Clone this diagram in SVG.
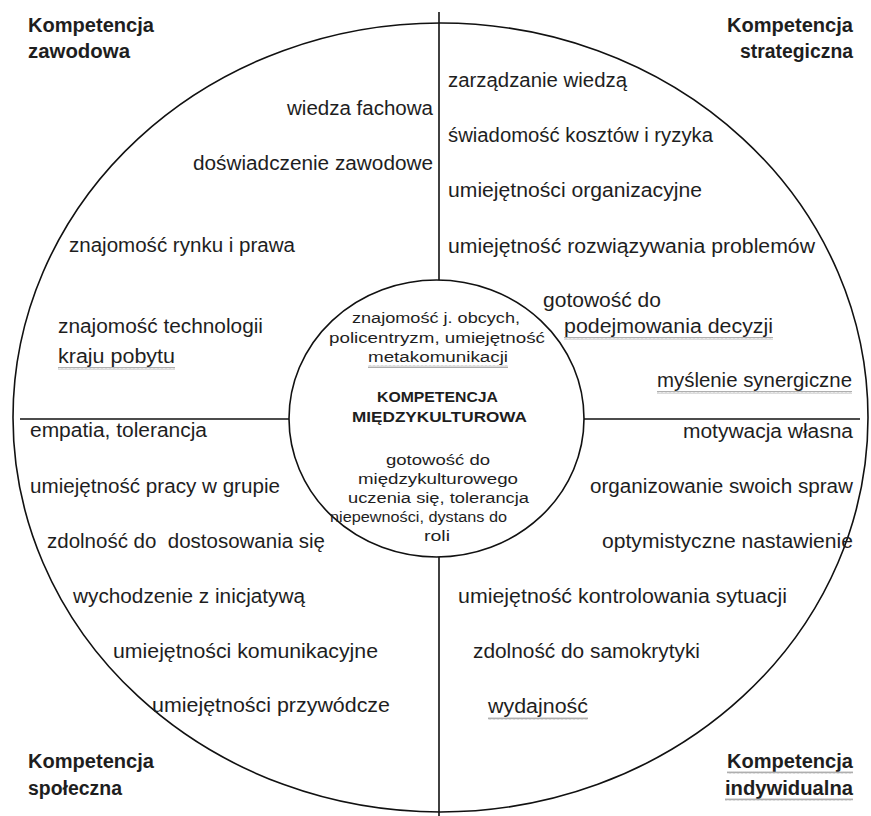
<svg xmlns="http://www.w3.org/2000/svg" width="871" height="816" viewBox="0 0 871 816">
<style>
text{font-family:"Liberation Sans",Arial,sans-serif;fill:#1e1e1e;}
.t{font-size:20px;}
.h{font-size:20px;font-weight:bold;}
.c{font-size:15.5px;}
.cb{font-size:15.5px;font-weight:bold;}
.ln{stroke:#111;stroke-width:1.6;fill:none;}
.sq{fill:url(#wave);}
</style>
<defs>
<pattern id="wave" x="0" y="0" width="4" height="3" patternUnits="userSpaceOnUse">
<path d="M0,2.5 L1,0.5 L2,2.5 L3,0.5 L4,2.5" stroke="#9a9a9a" stroke-width="0.8" fill="none"/>
</pattern>
</defs>
<rect width="871" height="816" fill="#fff"/>
<g id="connectors">
<line class="ln" x1="439" y1="12" x2="439" y2="816"/>
<line class="ln" x1="20" y1="419" x2="860" y2="419"/>
</g>
<g id="outer-circle">
<ellipse class="ln" cx="440.5" cy="417.5" rx="427.5" ry="394.5"/>
</g>
<g id="inner-circle">
<ellipse cx="436.5" cy="418.5" rx="147.5" ry="138.5" fill="#fff" stroke="#111" stroke-width="1.6"/>
</g>

<g id="kompetencja-zawodowa">
<text class="h" x="28" y="32" textLength="126" lengthAdjust="spacingAndGlyphs">Kompetencja</text>
<text class="h" x="28" y="58" textLength="102" lengthAdjust="spacingAndGlyphs">zawodowa</text>
<text class="t" x="287" y="115" textLength="146" lengthAdjust="spacingAndGlyphs">wiedza fachowa</text>
<text class="t" x="193" y="170" textLength="240" lengthAdjust="spacingAndGlyphs">doświadczenie zawodowe</text>
<text class="t" x="69" y="252" textLength="226" lengthAdjust="spacingAndGlyphs">znajomość rynku i prawa</text>
<text class="t" x="58" y="333" textLength="205" lengthAdjust="spacingAndGlyphs">znajomość technologii</text>
<text class="t" x="58" y="363" textLength="117" lengthAdjust="spacingAndGlyphs">kraju pobytu</text>
<rect class="sq" x="58" y="367" width="117" height="3"/>
</g>

<g id="kompetencja-strategiczna">
<text class="h" x="727" y="32" textLength="126" lengthAdjust="spacingAndGlyphs">Kompetencja</text>
<text class="h" x="740" y="58" textLength="113" lengthAdjust="spacingAndGlyphs">strategiczna</text>
<text class="t" x="448" y="87" textLength="179" lengthAdjust="spacingAndGlyphs">zarządzanie wiedzą</text>
<text class="t" x="448" y="142" textLength="265" lengthAdjust="spacingAndGlyphs">świadomość kosztów i ryzyka</text>
<text class="t" x="448" y="197" textLength="254" lengthAdjust="spacingAndGlyphs">umiejętności organizacyjne</text>
<text class="t" x="448" y="253" textLength="367" lengthAdjust="spacingAndGlyphs">umiejętność rozwiązywania problemów</text>
<text class="t" x="543" y="307" textLength="118" lengthAdjust="spacingAndGlyphs">gotowość do</text>
<text class="t" x="564" y="333" textLength="209" lengthAdjust="spacingAndGlyphs">podejmowania decyzji</text>
<rect class="sq" x="564" y="337" width="209" height="3"/>
<text class="t" x="657" y="387" textLength="195" lengthAdjust="spacingAndGlyphs">myślenie synergiczne</text>
<rect class="sq" x="657" y="391" width="195" height="3"/>
</g>

<g id="kompetencja-spoleczna">
<text class="t" x="30" y="437" textLength="177" lengthAdjust="spacingAndGlyphs">empatia, tolerancja</text>
<text class="t" x="30" y="493" textLength="250" lengthAdjust="spacingAndGlyphs">umiejętność pracy w grupie</text>
<text class="t" x="47" y="548" textLength="278" lengthAdjust="spacingAndGlyphs">zdolność do &#160;dostosowania się</text>
<text class="t" x="73" y="603" textLength="232" lengthAdjust="spacingAndGlyphs">wychodzenie z inicjatywą</text>
<text class="t" x="113" y="658" textLength="265" lengthAdjust="spacingAndGlyphs">umiejętności komunikacyjne</text>
<text class="t" x="152" y="712" textLength="238" lengthAdjust="spacingAndGlyphs">umiejętności przywódcze</text>
<text class="h" x="28" y="768" textLength="126" lengthAdjust="spacingAndGlyphs">Kompetencja</text>
<text class="h" x="28" y="795" textLength="94" lengthAdjust="spacingAndGlyphs">społeczna</text>
</g>

<g id="kompetencja-indywidualna">
<text class="t" x="683" y="438" textLength="170" lengthAdjust="spacingAndGlyphs">motywacja własna</text>
<text class="t" x="590" y="493" textLength="263" lengthAdjust="spacingAndGlyphs">organizowanie swoich spraw</text>
<text class="t" x="602" y="548" textLength="251" lengthAdjust="spacingAndGlyphs">optymistyczne nastawienie</text>
<text class="t" x="458" y="603" textLength="329" lengthAdjust="spacingAndGlyphs">umiejętność kontrolowania sytuacji</text>
<text class="t" x="473" y="658" textLength="227" lengthAdjust="spacingAndGlyphs">zdolność do samokrytyki</text>
<text class="t" x="488" y="713" textLength="100" lengthAdjust="spacingAndGlyphs">wydajność</text>
<rect class="sq" x="488" y="717" width="100" height="3"/>
<text class="h" x="727" y="768" textLength="126" lengthAdjust="spacingAndGlyphs">Kompetencja</text>
<rect class="sq" x="727" y="771" width="126" height="3"/>
<text class="h" x="725" y="795" textLength="128" lengthAdjust="spacingAndGlyphs">indywidualna</text>
<rect class="sq" x="725" y="798" width="128" height="3"/>
</g>

<g id="kompetencja-miedzykulturowa">
<text class="c" x="352" y="323" textLength="168" lengthAdjust="spacingAndGlyphs">znajomość j. obcych,</text>
<text class="c" x="329" y="343" textLength="216" lengthAdjust="spacingAndGlyphs">policentryzm, umiejętność</text>
<text class="c" x="368" y="362" textLength="140" lengthAdjust="spacingAndGlyphs">metakomunikacji</text>
<rect class="sq" x="368" y="365" width="140" height="3"/>
<text class="cb" x="377" y="402" textLength="121" lengthAdjust="spacingAndGlyphs">KOMPETENCJA</text>
<text class="cb" x="352" y="422" textLength="175" lengthAdjust="spacingAndGlyphs">MIĘDZYKULTUROWA</text>
<text class="c" x="386" y="465" textLength="104" lengthAdjust="spacingAndGlyphs">gotowość do</text>
<text class="c" x="358" y="484" textLength="160" lengthAdjust="spacingAndGlyphs">międzykulturowego</text>
<text class="c" x="348" y="503" textLength="181" lengthAdjust="spacingAndGlyphs">uczenia się, tolerancja</text>
<text class="c" x="330" y="522" textLength="177" lengthAdjust="spacingAndGlyphs">niepewności, dystans do</text>
<text class="c" x="424" y="541" textLength="26" lengthAdjust="spacingAndGlyphs">roli</text>
</g>
</svg>
